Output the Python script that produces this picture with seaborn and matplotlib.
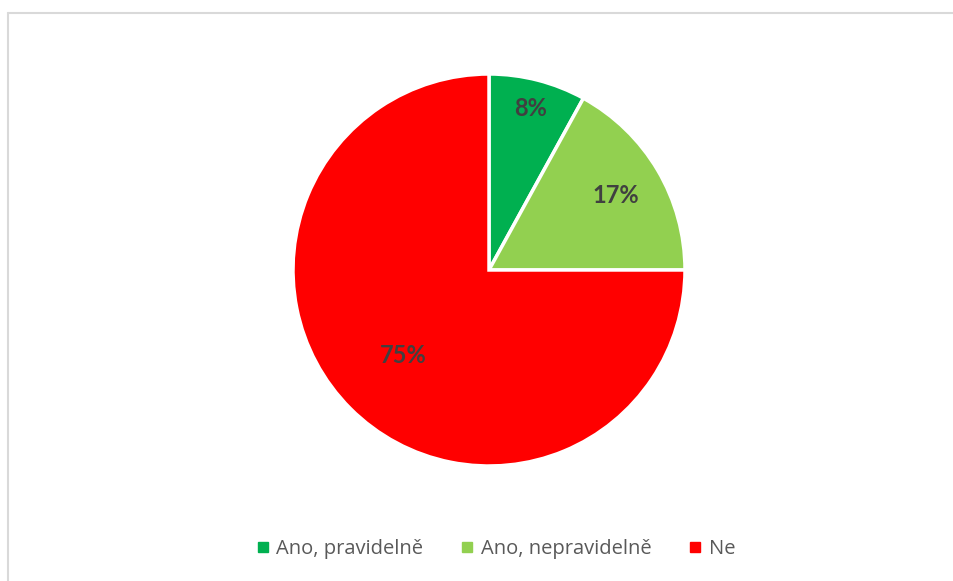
import matplotlib.pyplot as plt
import seaborn as sns
import numpy as np
from matplotlib.lines import Line2D

# data
kategorie = ['Ano, pravidelně', 'Ano, nepravidelně', 'Ne']
podil = [8, 17, 75]
barvy = ['#00B050', '#92D050', '#FF0000']
# vzdalenost popisku od stredu (Excel je dava ruzne)
vzdal_popisku = [0.85, 0.75, 0.62]

sns.set_style('white')
plt.rcParams['font.family'] = ['Open Sans', 'DejaVu Sans']

W, H = 954, 581
fig = plt.figure(figsize=(W / 100, H / 100), dpi=100)

# pie axes: stred (489, 270), polomer 196 px
cx, cy, r = 489, 270, 196
ax = fig.add_axes([(cx - r) / W, (H - cy - r) / H, 2 * r / W, 2 * r / H])

wedges, _ = ax.pie(podil, colors=barvy, startangle=90, counterclock=False,
                   radius=1, wedgeprops=dict(edgecolor='white', linewidth=2.5))
ax.set_xlim(-1, 1)
ax.set_ylim(-1, 1)
ax.set_aspect('equal')
ax.axis('off')

for w, p, d in zip(wedges, podil, vzdal_popisku):
    ang = np.deg2rad((w.theta1 + w.theta2) / 2)
    ax.text(d * np.cos(ang), d * np.sin(ang), f'{p}%', ha='center', va='center',
            fontsize=17, fontweight='bold', color='#404040',
            family=['Lato', 'DejaVu Sans'])

handles = [Line2D([], [], marker='s', linestyle='', markersize=7.5, color=c) for c in barvy]
fig.legend(handles, kategorie, loc='center', bbox_to_anchor=(496 / W, 1 - 549 / H),
           ncol=3, frameon=False, fontsize=14.5, labelcolor='#595959',
           handlelength=0.6, handletextpad=0.35, columnspacing=1.9)

# ramecek grafu (jen horni a leva hrana jsou videt)
fig.add_artist(Line2D([8 / W, 8 / W], [0, 1 - 13 / H], transform=fig.transFigure,
                      color='#D9D9D9', linewidth=1.5))
fig.add_artist(Line2D([8 / W, 1], [1 - 13 / H, 1 - 13 / H], transform=fig.transFigure,
                      color='#D9D9D9', linewidth=1.5))

plt.savefig('out.png', dpi=100)
